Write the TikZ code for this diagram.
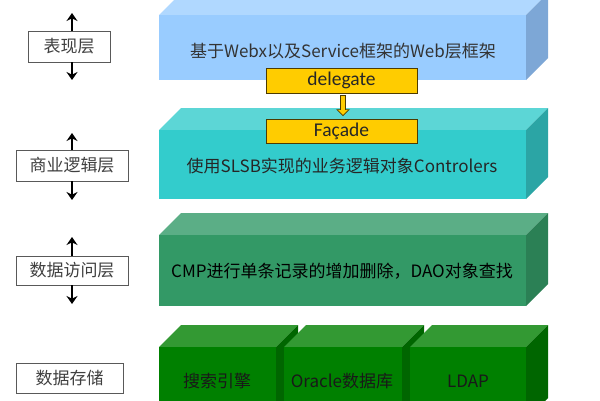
\documentclass[tikz,border=0pt]{standalone}
\usepackage{fontspec}
\setmainfont{Noto Sans CJK SC}
\newfontfamily\cali{Carlito}
\usetikzlibrary{arrows.meta}
\definecolor{bF}{HTML}{99CCFF}\definecolor{bT}{HTML}{B0D8FF}\definecolor{bS}{HTML}{7DA7D6}
\definecolor{tF}{HTML}{33CCCC}\definecolor{tT}{HTML}{5CD6D6}\definecolor{tS}{HTML}{2BA5A5}
\definecolor{gF}{HTML}{339966}\definecolor{gT}{HTML}{5BAE86}\definecolor{gS}{HTML}{2B8055}
\definecolor{dF}{HTML}{008000}\definecolor{dT}{HTML}{339933}\definecolor{dS}{HTML}{006600}
\definecolor{yel}{HTML}{FFCC00}\definecolor{yelB}{HTML}{4D3B00}
\newcommand\mycube[7]{%
  \fill[#6] (#1,#3) -- (#1+22,#3-22) -- (#2+22,#3-22) -- (#2,#3) -- cycle;
  \fill[#7] (#2,#3) -- (#2+22,#3-22) -- (#2+22,#4-22) -- (#2,#4) -- cycle;
  \fill[#5] (#1,#3) rectangle (#2,#4);}
\tikzset{
  lbl/.style={draw=black!65, line width=0.8pt, fill=white, text=black!75, inner sep=0pt,
    font=\fontsize{17}{20}\selectfont},
  varr/.style={line width=2.3pt, -{Stealth[length=8pt,width=11pt]}},
  ybox/.style={draw=yelB, line width=0.8pt, fill=yel, minimum width=151pt, minimum height=25pt,
    inner sep=0pt, font=\cali\fontsize{19.5}{22}\selectfont, text=black!85},
  btxt/.style={font=\fontsize{17}{20}\selectfont, inner sep=0pt}
}
\begin{document}
\begin{tikzpicture}[x=1pt,y=-1pt]
\useasboundingbox (0,0) rectangle (600,400);
\clip (0,0) rectangle (600,400);
% layer cubes
\mycube{159}{526}{15}{80}{bF}{bT}{bS}
\mycube{159}{526}{130}{199}{tF}{tT}{tS}
\mycube{159}{526}{235}{306}{gF}{gT}{gS}
\mycube{159}{276}{347}{420}{dF}{dT}{dS}
\mycube{284}{402}{347}{420}{dF}{dT}{dS}
\mycube{410}{526}{347}{420}{dF}{dT}{dS}
% texts
\node[btxt, text=black!80] (t1) at (343,51) {基于Webx以及Service框架的Web层框架};
\node[btxt, text=black!85] (t2) at (342,166) {使用SLSB实现的业务逻辑对象Controlers};
\node[btxt, text=black] (t3) at (342,271) {CMP进行单条记录的增加删除，DAO对象查找};
\node[btxt, text=black!90] (s1) at (217,381) {搜索引擎};
\node[btxt, text=black!90] (s2) at (342,381) {Oracle数据库};
\node[btxt, text=black!90] (s3) at (468,381) {LDAP};
% delegate / facade
\node[ybox] (del) at (341.5,80.5) {delegate};
\node[ybox, minimum height=24pt] (fac) at (341.5,131) {Façade};
\draw[yelB, line width=0.7pt, fill=yel]
  ([xshift=-1pt,yshift=-2pt]del.south) -- ([xshift=-1pt,yshift=9pt]fac.north)
  -- ([xshift=-4.5pt,yshift=9pt]fac.north) -- ([xshift=1.5pt,yshift=3pt]fac.north)
  -- ([xshift=7.5pt,yshift=9pt]fac.north) -- ([xshift=4pt,yshift=9pt]fac.north)
  -- ([xshift=4pt,yshift=-2pt]del.south) -- cycle;
% left labels
\node[lbl, minimum width=82pt, minimum height=31pt] (l1) at (69,46.5) {表现层};
\node[lbl, minimum width=112pt, minimum height=31pt] (l2) at (72,165.5) {商业逻辑层};
\node[lbl, minimum width=112pt, minimum height=29pt] (l3) at (72,270.5) {数据访问层};
\node[lbl, minimum width=107pt, minimum height=30pt] (l4) at (69.5,378) {数据存储};
\coordinate (u1) at (72,13); \coordinate (d1) at (72,80);
\coordinate (u2) at (72,133); \coordinate (d2) at (72,200);
\coordinate (u3) at (72,237); \coordinate (d3) at (72,304);
\draw[varr] (l1.north -| u1) -- (u1);
\draw[varr] (l1.south -| d1) -- (d1);
\draw[varr] (l2.north -| u2) -- (u2);
\draw[varr] (l2.south -| d2) -- (d2);
\draw[varr] (l3.north -| u3) -- (u3);
\draw[varr] (l3.south -| d3) -- (d3);
\end{tikzpicture}
\end{document}
